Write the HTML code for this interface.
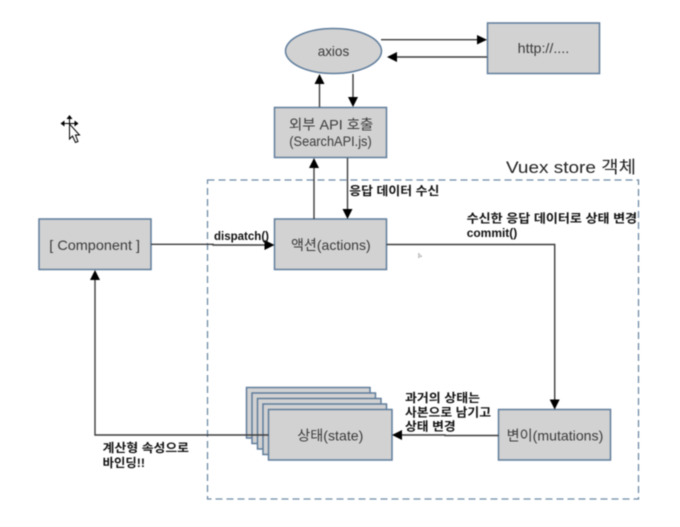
<!DOCTYPE html>
<html>
<head>
<meta charset="utf-8">
<style>
html,body{margin:0;padding:0;background:#fff;width:680px;height:527px;overflow:hidden}
svg{display:block;filter:blur(0.4px)}
text{font-family:"Liberation Sans","Noto Sans CJK KR",sans-serif;fill:#3a3a3a}
.n{font-size:14px}
.b{font-size:12px;font-weight:bold;fill:#111}
.box{fill:#d2d2d2;stroke:#5f7d9c;stroke-width:1.5}
.ln{fill:none;stroke:#3c3c3c;stroke-width:1.4}
.ah{fill:#000}
</style>
</head>
<body>
<svg width="680" height="527" viewBox="0 0 680 527" xmlns="http://www.w3.org/2000/svg">
<rect width="680" height="527" fill="#fff"/>

<!-- Dashed store -->
<rect x="207.5" y="180" width="431" height="319" fill="none" stroke="#6f8aa6" stroke-width="1.3" stroke-dasharray="7 4"/>
<text x="506" y="173" style="font-size:17px;fill:#222" textLength="130" lengthAdjust="spacingAndGlyphs">Vuex store 객체</text>

<!-- Nodes -->
<ellipse cx="333.5" cy="51" rx="48" ry="22.5" fill="#d2d2d2" stroke="#5f7d9c" stroke-width="1.5"/>
<text class="n" x="317.7" y="56" textLength="31.5" lengthAdjust="spacingAndGlyphs">axios</text>

<rect class="box" x="487.5" y="23" width="112" height="50.5"/>
<text class="n" x="517.7" y="53" textLength="51.5" lengthAdjust="spacingAndGlyphs">http://....</text>

<rect class="box" x="274.5" y="107.5" width="112" height="50"/>
<text class="n" x="289" y="129.5" textLength="84.3" lengthAdjust="spacingAndGlyphs">외부 API 호출</text>
<text class="n" x="289.3" y="146" textLength="82.4" lengthAdjust="spacingAndGlyphs">(SearchAPI.js)</text>

<rect class="box" x="39" y="219" width="112" height="50.5"/>
<text class="n" x="49.3" y="250" textLength="90.7" lengthAdjust="spacingAndGlyphs">[ Component ]</text>

<rect class="box" x="274.5" y="219" width="112" height="50.5"/>
<text class="n" x="291" y="250" textLength="79.7" lengthAdjust="spacingAndGlyphs">액션(actions)</text>

<rect class="box" x="498.5" y="409.5" width="112" height="50.5"/>
<text class="n" x="506.7" y="440.5" textLength="96.6" lengthAdjust="spacingAndGlyphs">변이(mutations)</text>

<!-- State stack -->
<rect class="box" x="246.5" y="387.5" width="123.5" height="50.5"/>
<rect class="box" x="252" y="393" width="123.5" height="50.5"/>
<rect class="box" x="257.5" y="398.5" width="123.5" height="50.5"/>
<rect class="box" x="263" y="404" width="123.5" height="50.5"/>
<rect class="box" x="268.5" y="409.5" width="123.5" height="50.5"/>
<text class="n" x="297.3" y="440.5" textLength="66" lengthAdjust="spacingAndGlyphs">상태(state)</text>

<!-- Connectors -->
<line class="ln" x1="381" y1="39.7" x2="478" y2="39.7"/>
<polygon class="ah" points="487,39.7 477,35 477,44.5"/>
<line class="ln" x1="487" y1="57" x2="396" y2="57"/>
<polygon class="ah" points="387,57 397,52 397,62"/>

<line class="ln" x1="319.5" y1="107" x2="319.5" y2="83"/>
<polygon class="ah" points="319.5,74 314.5,84 324.5,84"/>
<line class="ln" x1="353" y1="74" x2="353" y2="98"/>
<polygon class="ah" points="353,107 348,97 358,97"/>

<line class="ln" x1="314" y1="219" x2="314" y2="167"/>
<polygon class="ah" points="314,158 309,168 319,168"/>
<line class="ln" x1="347.5" y1="158" x2="347.5" y2="210"/>
<polygon class="ah" points="347.5,219 342.5,209 352.5,209"/>

<polyline class="ln" points="151,244.3 213,244.3 213,245 265,245"/>
<polygon class="ah" points="274.5,245 264.5,240 264.5,250"/>

<polyline class="ln" points="386.5,244.5 554.7,244.5 554.7,400"/>
<polygon class="ah" points="554.7,409.5 549.7,399.5 559.7,399.5"/>

<polyline class="ln" points="498.5,435.5 445,435.5 445,435 401,435"/>
<polygon class="ah" points="392,435 402,430 402,440"/>

<polyline class="ln" points="268.5,435 95,435 95,279"/>
<polygon class="ah" points="95,270 90,280 100,280"/>

<!-- Labels -->
<text class="b" x="349.3" y="195" textLength="90" lengthAdjust="spacingAndGlyphs">응답 데이터 수신</text>
<text class="b" x="214" y="240" textLength="55" lengthAdjust="spacingAndGlyphs">dispatch()</text>
<text class="b" x="466.7" y="222.5" textLength="170.5" lengthAdjust="spacingAndGlyphs">수신한 응답 데이터로 상태 변경</text>
<text class="b" x="466.7" y="237" textLength="50.6" lengthAdjust="spacingAndGlyphs">commit()</text>
<text class="b" x="405" y="402" textLength="75" lengthAdjust="spacingAndGlyphs">과거의 상태는</text>
<text class="b" x="405" y="416.5" textLength="86" lengthAdjust="spacingAndGlyphs">사본으로 남기고</text>
<text class="b" x="405" y="430.5" textLength="50.7" lengthAdjust="spacingAndGlyphs">상태 변경</text>
<text class="b" x="102.7" y="452" textLength="86.3" lengthAdjust="spacingAndGlyphs">계산형 속성으로</text>
<text class="b" x="102.7" y="467" textLength="42.3" lengthAdjust="spacingAndGlyphs">바인딩!!</text>

<!-- Move cursor -->
<g fill="#000" stroke="none">
  <rect x="69" y="118" width="1" height="12"/>
  <rect x="62" y="123" width="15" height="1"/>
  <polygon points="69.5,115 66.5,119 72.5,119"/>
  <polygon points="60.5,123.5 64.5,120.5 64.5,126.5"/>
  <polygon points="78.5,123.5 74.5,120.5 74.5,126.5"/>
</g>
<polygon points="69.5,124 69.5,139 72.5,136 75.5,142.5 78,141.5 75.5,135 79.5,135" fill="#fff" stroke="#000" stroke-width="1"/>
<!-- Small pointer -->
<polygon points="418.5,253 418.5,258 420,256.8 422,256.5" fill="#ddd" stroke="#999" stroke-width=".5"/>
</svg>
</body>
</html>
